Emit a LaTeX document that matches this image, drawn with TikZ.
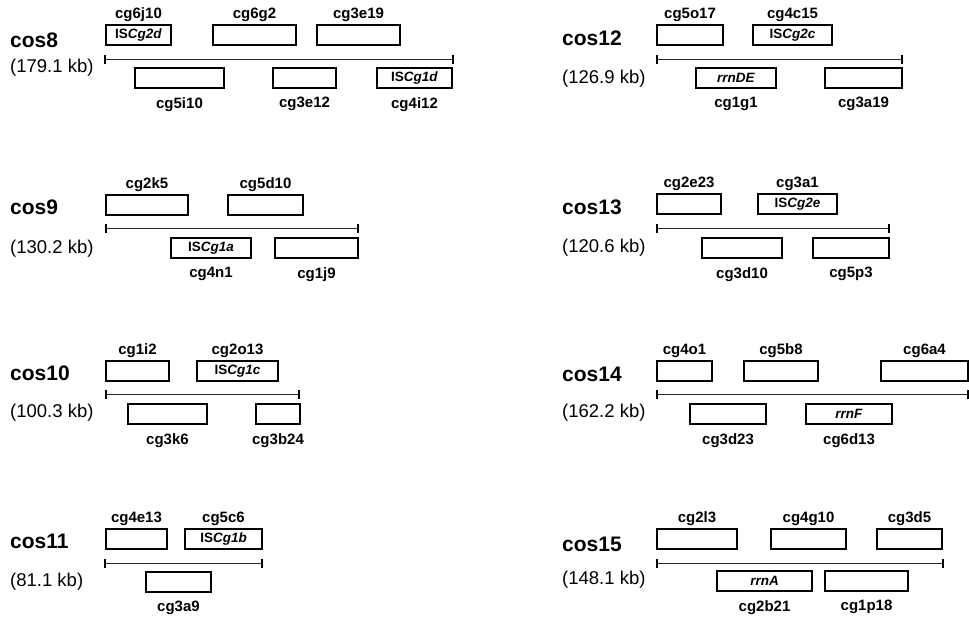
\documentclass[tikz,border=0pt]{standalone}
\usepackage{fontspec}
\setmainfont{Liberation Sans}
\usetikzlibrary{positioning}
\tikzset{
  gbox/.style={draw=black, line width=1.3pt, inner sep=0pt, outer sep=0pt,
    minimum height=20pt, font=\fontsize{13.5}{15}\selectfont\bfseries},
  toplab/.style={inner sep=0pt, outer sep=0pt, font=\fontsize{15}{17}\selectfont\bfseries},
  botlab/.style={inner sep=0pt, outer sep=0pt, font=\fontsize{15}{17}\selectfont\bfseries},
  costitle/.style={anchor=west, inner sep=0pt, font=\fontsize{21}{25}\selectfont\bfseries},
  kbsize/.style={anchor=west, inner sep=0pt, font=\fontsize{18.5}{22}\selectfont},
  scaleline/.style={draw=black!85, line width=1pt},
  tickmark/.style={draw=black, line width=2pt}
}
% name, x1, x2, ytop, inner text, label
\newcommand\gtop[6]{%
  \node[gbox, minimum width={#3-#2}] (#1) at ({(#2+#3)/2},{#4+10}) {#5};
  \node[toplab, above=3.5pt of #1] (#1-l) {#6};}
\newcommand\gbot[6]{%
  \node[gbox, minimum width={#3-#2}] (#1) at ({(#2+#3)/2},{#4+10}) {#5};
  \node[botlab, below=9.5pt of #1, anchor=north] (#1-l) {#6};}
\newcommand\cosrow[6]{% name, title, kb, ytitle, ykb, xtitle
  \node[costitle] (#1-t) at (#6,#4) {#2};
  \node[kbsize] (#1-kb) at (#6,#5) {#3};}
\newcommand\scl[4]{% name, x1, x2, y
  \coordinate (#1-a) at (#2,#4);
  \coordinate (#1-b) at (#3,#4);
  \draw[scaleline] (#1-a) -- (#1-b);
  \draw[tickmark] ([yshift=4.5pt]#1-a) -- ([yshift=-4.5pt]#1-a);
  \draw[tickmark] ([yshift=4.5pt]#1-b) -- ([yshift=-4.5pt]#1-b);}

\begin{document}
\begin{tikzpicture}[x=1pt, y=-1pt]
\useasboundingbox (0,0) rectangle (969,619);
\fill[white] (0,0) rectangle (969,619);

% ---------- cos8 ----------
\cosrow{c8}{cos8}{(179.1 kb)}{40}{68}{10}
\scl{l8}{105}{453}{59}
\gtop{c8t1}{106}{171}{25}{IS\textit{Cg2d}}{cg6j10}
\gtop{c8t2}{213}{296}{25}{}{cg6g2}
\gtop{c8t3}{317}{400}{25}{}{cg3e19}
\gbot{c8b1}{135}{224}{68}{}{cg5i10}
\gbot{c8b2}{273}{336}{68}{}{cg3e12}
\gbot{c8b3}{377}{452}{68}{IS\textit{Cg1d}}{cg4i12}

% ---------- cos9 ----------
\cosrow{c9}{cos9}{(130.2 kb)}{207}{249}{10}
\scl{l9}{106}{358}{228}
\gtop{c9t1}{106}{188}{195}{}{cg2k5}
\gtop{c9t2}{228}{303}{195}{}{cg5d10}
\gbot{c9b1}{171}{251}{238}{IS\textit{Cg1a}}{cg4n1}
\gbot{c9b2}{275}{358}{238}{}{cg1j9}

% ---------- cos10 ----------
\cosrow{c10}{cos10}{(100.3 kb)}{373}{413}{10}
\scl{l10}{106}{299}{394}
\gtop{c10t1}{106}{169}{361}{}{cg1i2}
\gtop{c10t2}{197}{278}{361}{IS\textit{Cg1c}}{cg2o13}
\gbot{c10b1}{128}{207}{404}{}{cg3k6}
\gbot{c10b2}{256}{300}{404}{}{cg3b24}

% ---------- cos11 ----------
\cosrow{c11}{cos11}{(81.1 kb)}{541}{582}{10}
\scl{l11}{105}{262}{563}
\gtop{c11t1}{106}{167}{529}{}{cg4e13}
\gtop{c11t2}{185}{262}{529}{IS\textit{Cg1b}}{cg5c6}
\gbot{c11b1}{146}{211}{572}{}{cg3a9}

% ---------- cos12 ----------
\cosrow{c12}{cos12}{(126.9 kb)}{38}{79}{562}
\scl{l12}{657}{902}{59}
\gtop{c12t1}{657}{723}{25}{}{cg5o17}
\gtop{c12t2}{753}{832}{25}{IS\textit{Cg2c}}{cg4c15}
\gbot{c12b1}{696}{776}{68}{\textit{rrnDE}}{cg1g1}
\gbot{c12b2}{825}{902}{68}{}{cg3a19}

% ---------- cos13 ----------
\cosrow{c13}{cos13}{(120.6 kb)}{207}{248}{562}
\scl{l13}{657}{889}{228}
\gtop{c13t1}{657}{721}{194}{}{cg2e23}
\gtop{c13t2}{758}{837}{194}{IS\textit{Cg2e}}{cg3a1}
\gbot{c13b1}{702}{782}{238}{}{cg3d10}
\gbot{c13b2}{813}{889}{238}{}{cg5p3}

% ---------- cos14 ----------
\cosrow{c14}{cos14}{(162.2 kb)}{374}{413}{562}
\scl{l14}{657}{968}{394}
\gtop{c14t1}{657}{712}{361}{}{cg4o1}
\gtop{c14t2}{744}{818}{361}{}{cg5b8}
\gtop{c14t3}{881}{968}{361}{}{cg6a4}
\gbot{c14b1}{690}{766}{404}{}{cg3d23}
\gbot{c14b2}{806}{892}{404}{\textit{rrnF}}{cg6d13}

% ---------- cos15 ----------
\cosrow{c15}{cos15}{(148.1 kb)}{544}{580}{562}
\scl{l15}{657}{943}{563}
\gtop{c15t1}{657}{737}{529}{}{cg2l3}
\gtop{c15t2}{771}{846}{529}{}{cg4g10}
\gtop{c15t3}{877}{942}{529}{}{cg3d5}
\gbot{c15b1}{717}{812}{571}{\textit{rrnA}}{cg2b21}
\gbot{c15b2}{825}{908}{571}{}{cg1p18}
\end{tikzpicture}
\end{document}
